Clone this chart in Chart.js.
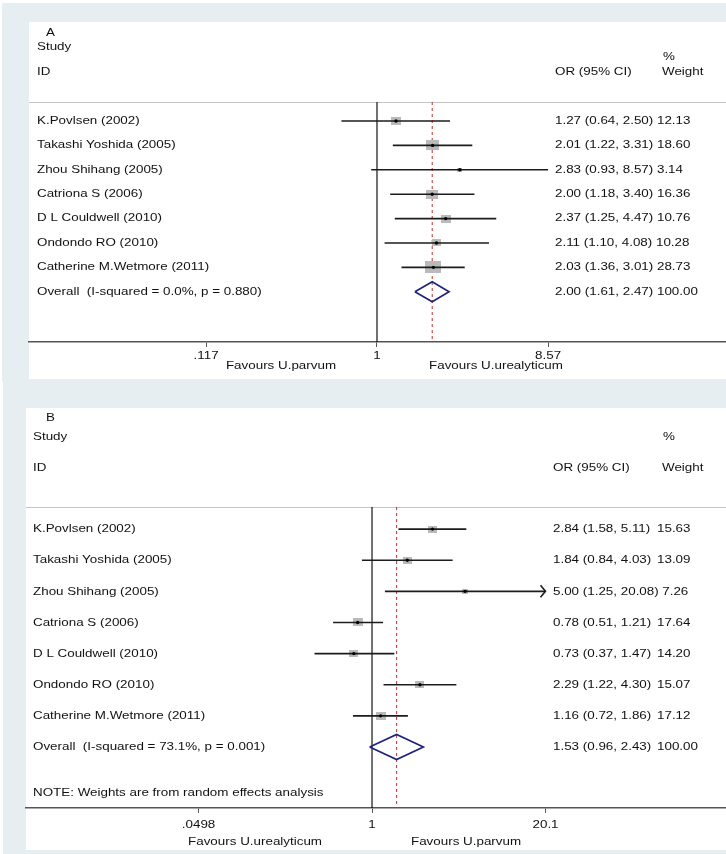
<!DOCTYPE html>
<html>
<head>
<meta charset="utf-8">
<script src="https://cdn.jsdelivr.net/npm/chart.js@4.4.1/dist/chart.umd.min.js"></script>
<style>
html,body{margin:0;padding:0;background:#fff;width:726px;height:854px;overflow:hidden;}
.bg{position:absolute;background:#e7eef1;}
.wrap{position:absolute;left:0;}
canvas{display:block;}
</style>
</head>
<body>
<div class="bg" style="left:2px;top:3px;width:724px;height:379px"></div>
<div class="bg" style="left:3px;top:382px;width:723px;height:472px"></div>
<div class="wrap" style="top:0;width:726px;height:382px"><canvas id="cA" width="726" height="382"></canvas></div>
<div class="wrap" style="top:382px;width:726px;height:472px"><canvas id="cB" width="726" height="472"></canvas></div>
<script>
const FONT = '"Liberation Sans", Arial, Helvetica, sans-serif';

const studyLabels = ['K.Povlsen (2002)', 'Takashi Yoshida (2005)', 'Zhou Shihang (2005)', 'Catriona S (2006)',
  'D L Couldwell (2010)', 'Ondondo RO (2010)', 'Catherine M.Wetmore (2011)'];

// Panel A
const orA = [1.27, 2.01, 2.83, 2.00, 2.37, 2.11, 2.03];
const lowA = [0.64, 1.22, 0.93, 1.18, 1.25, 1.10, 1.36];
const highA = [2.50, 3.31, 8.57, 3.40, 4.47, 4.08, 3.01];
const weightA = [12.13, 18.60, 3.14, 16.36, 10.76, 10.28, 28.73];
const pooledA = [2.00, 1.61, 2.47];
const pooledWeightA = 100.00;
const pooledLabelA = 'Overall  (I-squared = 0.0%, p = 0.880)';
const tickValuesA = [0.117, 1, 8.57];
const tickLabelsA = ['.117', '1', '8.57'];
const favoursA = ['Favours U.parvum', 'Favours U.urealyticum'];
const arrowA = [false, false, false, false, false, false, false];

// Panel B
const orB = [2.84, 1.84, 5.00, 0.78, 0.73, 2.29, 1.16];
const lowB = [1.58, 0.84, 1.25, 0.51, 0.37, 1.22, 0.72];
const highB = [5.11, 4.03, 20.08, 1.21, 1.47, 4.30, 1.86];
const weightB = [15.63, 13.09, 7.26, 17.64, 14.20, 15.07, 17.12];
const pooledB = [1.53, 0.96, 2.43];
const pooledWeightB = 100.00;
const pooledLabelB = 'Overall  (I-squared = 73.1%, p = 0.001)';
const tickValuesB = [0.0498, 1, 20.1];
const tickLabelsB = ['.0498', '1', '20.1'];
const favoursB = ['Favours U.urealyticum', 'Favours U.parvum'];
const arrowB = [false, false, true, false, false, false, false];
const noteB = 'NOTE: Weights are from random effects analysis';

const layoutA = {
  title: 'A', pad: {left: 29, top: 22, right: 0, bottom: 35}, panelBottom: 379,
  xMin: 0.01266, xMax: 80.0, yMin: -4.06, yMax: 9.06,
  fontSize: 10.3, sx: 1.3, tickLabelY: 14,
  labelX: 37, titleX: 46, ciX: 555, pctX: 663, weightHeadX: 662, weightX: null,
  rows: {title: -3.6, study: -3.04, pct: -2.6, id: -2.0, header: -0.78, note: null},
  favOffsets: [-96, 119], favY: 24.5, boxK: 2.95, boxAspect: 0.75, diamondHalf: 0.41
};
const layoutB = {
  title: 'B', pad: {left: 26, top: 26, right: 0, bottom: 41}, panelBottom: 468,
  xMin: 0.002519, xMax: 455.6, yMin: -3.89, yMax: 8.96,
  fontSize: 11.6, sx: 1.155, tickLabelY: 17,
  labelX: 33, titleX: 46, ciX: 553, pctX: 663, weightHeadX: 662, weightX: 657,
  rows: {title: -3.57, study: -2.96, pct: -2.96, id: -1.96, header: -0.71, note: 8.48},
  favOffsets: [-117, 94], favY: 34, boxK: 2.4, boxAspect: 0.82, diamondHalf: 0.4
};

function boxStyles(weights, k, aspect) {
  return weights.map(w => {
    const bw = Math.max(2, Math.round(k * Math.sqrt(w)));
    const bh = Math.max(2, Math.round(bw * aspect));
    const c = document.createElement('canvas');
    c.width = bw; c.height = bh;
    const g = c.getContext('2d');
    g.fillStyle = '#bababa';
    g.fillRect(0, 0, bw, bh);
    return c;
  });
}

function txt(ctx, s, x, y, L, align) {
  ctx.save();
  ctx.translate(x, y);
  ctx.scale(L.sx, 1);
  ctx.font = L.fontSize + 'px ' + FONT;
  ctx.fillStyle = '#111';
  ctx.textAlign = align || 'left';
  ctx.textBaseline = 'middle';
  ctx.fillText(s, 0, 0);
  ctx.restore();
}
function txtWidth(ctx, s, L) {
  ctx.save();
  ctx.font = L.fontSize + 'px ' + FONT;
  const w = ctx.measureText(s).width * L.sx;
  ctx.restore();
  return w;
}
const f2 = v => v.toFixed(2);

function makePanel(canvasId, D, L) {
  const n = D.or.length;
  const datasets = [];
  // null line
  datasets.push({data: [{x: 1, y: L.rows.header}, {x: 1, y: L.yMax}], showLine: true,
    borderColor: '#000', borderWidth: 1.1, pointRadius: 0, order: 9});
  // pooled estimate dashed line
  datasets.push({data: [{x: D.pooled[0], y: L.rows.header}, {x: D.pooled[0], y: L.yMax}], showLine: true,
    borderColor: '#b8342e', borderWidth: 1, borderDash: [3, 3], pointRadius: 0, order: 8});
  // weight boxes
  datasets.push({data: D.or.map((v, i) => ({x: v, y: i})), pointStyle: boxStyles(D.w, L.boxK, L.boxAspect),
    pointRadius: 4, order: 7});
  // CI lines
  for (let i = 0; i < n; i++) {
    datasets.push({data: [{x: D.lo[i], y: i}, {x: D.hi[i], y: i}], showLine: true,
      borderColor: '#1c1c1c', borderWidth: 1.6, pointRadius: 0, order: 3});
  }
  // pooled diamond
  const r = n, p = D.pooled, h = L.diamondHalf;
  datasets.push({data: [{x: p[1], y: r}, {x: p[0], y: r - h}, {x: p[2], y: r}, {x: p[0], y: r + h}, {x: p[1], y: r}],
    showLine: true, borderColor: '#1f237a', borderWidth: 1.7, pointRadius: 0, order: 2});
  // point estimates
  datasets.push({data: D.or.map((v, i) => ({x: v, y: i})), pointStyle: 'circle', pointRadius: 1.7,
    pointBackgroundColor: '#000', pointBorderWidth: 0, order: 1});

  const plugin = {
    id: 'forest' + canvasId,
    beforeDraw(chart) {
      const {ctx, chartArea: a} = chart;
      ctx.save();
      ctx.fillStyle = '#fff';
      ctx.fillRect(a.left, a.top, a.right - a.left, L.panelBottom - a.top);
      const yS = chart.scales.y;
      const hy = Math.round(yS.getPixelForValue(L.rows.header)) + 0.5;
      ctx.strokeStyle = '#c4c4c4';
      ctx.lineWidth = 1;
      ctx.beginPath(); ctx.moveTo(a.left, hy); ctx.lineTo(a.right, hy); ctx.stroke();
      ctx.restore();
    },
    afterDraw(chart) {
      const {ctx, chartArea: a} = chart;
      const xS = chart.scales.x, yS = chart.scales.y;
      const Y = v => yS.getPixelForValue(v);
      txt(ctx, L.title, L.titleX, Y(L.rows.title), L);
      txt(ctx, 'Study', L.labelX, Y(L.rows.study), L);
      txt(ctx, '%', L.pctX, Y(L.rows.pct), L);
      txt(ctx, 'ID', L.labelX, Y(L.rows.id), L);
      txt(ctx, 'OR (95% CI)', L.ciX, Y(L.rows.id), L);
      txt(ctx, 'Weight', L.weightHeadX, Y(L.rows.id), L);
      const rowsText = D.labels.map((lab, i) => [lab, D.or[i], D.lo[i], D.hi[i], D.w[i]]);
      rowsText.push([D.pooledLabel, D.pooled[0], D.pooled[1], D.pooled[2], D.pooledW]);
      rowsText.forEach((rw, i) => {
        const y = Y(i);
        txt(ctx, rw[0], L.labelX, y, L);
        const ci = f2(rw[1]) + ' (' + f2(rw[2]) + ', ' + f2(rw[3]) + ')';
        if (L.weightX === null) {
          txt(ctx, ci + ' ' + f2(rw[4]), L.ciX, y, L);
        } else {
          txt(ctx, ci, L.ciX, y, L);
          const end = L.ciX + txtWidth(ctx, ci, L);
          txt(ctx, f2(rw[4]), Math.max(L.weightX, end + 3.5), y, L);
        }
      });
      if (L.rows.note !== null) txt(ctx, D.note, L.labelX, Y(L.rows.note), L);
      // arrows for truncated CIs
      ctx.save();
      ctx.strokeStyle = '#1c1c1c'; ctx.lineWidth = 1.6;
      D.arrow.forEach((on, i) => {
        if (!on) return;
        const x = xS.getPixelForValue(D.hi[i]), y = Y(i);
        ctx.beginPath(); ctx.moveTo(x - 5, y - 6); ctx.lineTo(x, y); ctx.lineTo(x - 5, y + 6); ctx.stroke();
      });
      ctx.restore();
      // tick labels on the x axis
      D.tickValues.forEach((v, i) => {
        txt(ctx, D.tickLabels[i], xS.getPixelForValue(v), a.bottom + L.tickLabelY, L, 'center');
      });
      // favours labels
      const x0 = xS.getPixelForValue(1);
      txt(ctx, D.favours[0], x0 + L.favOffsets[0], a.bottom + L.favY, L, 'center');
      txt(ctx, D.favours[1], x0 + L.favOffsets[1], a.bottom + L.favY, L, 'center');
    }
  };

  return new Chart(document.getElementById(canvasId), {
    type: 'scatter',
    data: {datasets},
    options: {
      responsive: false, animation: false, devicePixelRatio: 1,
      layout: {padding: L.pad, autoPadding: false},
      plugins: {legend: {display: false}, tooltip: {enabled: false}},
      scales: {
        x: {
          type: 'logarithmic', min: L.xMin, max: L.xMax, bounds: 'data', position: 'bottom',
          afterBuildTicks: s => { s.ticks = D.tickValues.map(v => ({value: v})); },
          ticks: {display: false},
          grid: {display: true, drawOnChartArea: false, drawTicks: true, tickLength: 5, color: '#555', lineWidth: 1},
          border: {display: true, color: '#555', width: 1.5}
        },
        y: {type: 'linear', reverse: true, min: L.yMin, max: L.yMax, display: false}
      }
    },
    plugins: [plugin]
  });
}

makePanel('cA', {labels: studyLabels, or: orA, lo: lowA, hi: highA, w: weightA, pooled: pooledA, pooledW: pooledWeightA,
  pooledLabel: pooledLabelA, tickValues: tickValuesA, tickLabels: tickLabelsA, favours: favoursA, arrow: arrowA, note: ''}, layoutA);
makePanel('cB', {labels: studyLabels, or: orB, lo: lowB, hi: highB, w: weightB, pooled: pooledB, pooledW: pooledWeightB,
  pooledLabel: pooledLabelB, tickValues: tickValuesB, tickLabels: tickLabelsB, favours: favoursB, arrow: arrowB, note: noteB}, layoutB);
</script>
</body>
</html>
